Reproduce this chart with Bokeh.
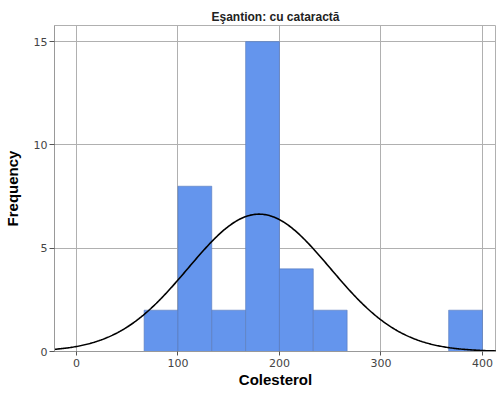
import numpy as np
from bokeh.plotting import figure
from bokeh.models import Range1d, FixedTicker
from bokeh.embed import file_html
from bokeh.resources import INLINE

# Histogram data (bin edges and counts)
bin_left = [66.67, 100.0, 133.33, 166.67, 200.0, 233.33, 366.67]
bin_right = [100.0, 133.33, 166.67, 200.0, 233.33, 266.67, 400.0]
counts = [2, 8, 2, 15, 4, 2, 2]

# Fitted normal curve parameters
mean_val = 180.0
sd_val = 70.0
n_obs = 35
bin_width = 33.33

x_ticks = [0, 100, 200, 300, 400]
y_ticks = [0, 5, 10, 15]

p = figure(width=496, height=390, output_backend="svg", toolbar_location=None,
           x_range=Range1d(-21.6, 413.8), y_range=Range1d(0, 15.78),
           min_border_left=43, min_border_right=0, min_border_top=25, min_border_bottom=0)

p.title.text = "Eşantion: cu cataractă"
p.title.align = "center"
p.title.vertical_align = "bottom"
p.title.standoff = 4
p.title.text_font = "Liberation Sans"
p.title.text_font_size = "12px"
p.title.text_font_style = "bold"
p.title.text_color = "#222222"

p.quad(left=bin_left, right=bin_right, bottom=0, top=counts,
       fill_color="#6495ED", line_color="#5878b8", line_width=0.6)

xs = np.linspace(-21.6, 413.8, 400)
ys = n_obs * bin_width / (sd_val * np.sqrt(2 * np.pi)) * np.exp(-((xs - mean_val) ** 2) / (2 * sd_val ** 2))
p.line(xs, ys, line_color="black", line_width=1.6)

p.xaxis.ticker = FixedTicker(ticks=x_ticks)
p.yaxis.ticker = FixedTicker(ticks=y_ticks)
p.xaxis.axis_label = "Colesterol"
p.yaxis.axis_label = "Frequency"
for ax in (p.xaxis, p.yaxis):
    ax.axis_label_text_font = "Liberation Sans"
    ax.axis_label_text_font_style = "bold"
    ax.axis_label_text_font_size = "15px"
    ax.axis_label_text_color = "#000000"
    ax.major_label_text_font = "DejaVu Sans"
    ax.major_label_text_font_size = "11px"
    ax.major_label_text_color = "#444444"
    ax.axis_line_color = "#999999"
    ax.major_tick_line_color = "#555555"
    ax.major_tick_out = 5
    ax.major_tick_in = 0
    ax.minor_tick_line_color = None
p.xaxis.axis_label_standoff = 1
p.yaxis.axis_label_standoff = 10
p.xaxis.major_label_standoff = 3
p.yaxis.major_label_standoff = 2
p.xaxis.major_tick_out = 4

p.xgrid.grid_line_color = "#b0b0b0"
p.ygrid.grid_line_color = "#b0b0b0"
p.xgrid.grid_line_width = 1
p.ygrid.grid_line_width = 1
p.outline_line_color = "#b0b0b0"
p.background_fill_color = "white"
p.border_fill_color = "white"

open("out.html", "w").write(file_html(p, INLINE))
